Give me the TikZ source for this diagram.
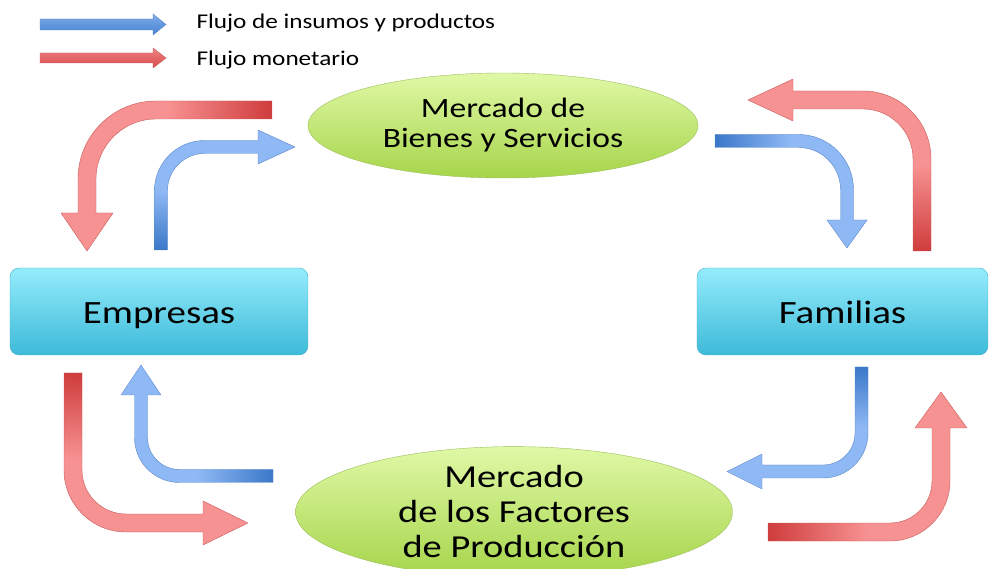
\documentclass[tikz,border=0pt]{standalone}
\usepackage{fontspec}
\setmainfont{Carlito}[FakeStretch=1.2]
\usetikzlibrary{shapes.geometric}

\definecolor{reddark}{HTML}{CF3C3C}
\definecolor{redlight}{HTML}{F79292}
\definecolor{redline}{HTML}{C85A5A}
\definecolor{bluedark}{HTML}{3A78C8}
\definecolor{bluelight}{HTML}{8FB9F5}
\definecolor{blueline}{HTML}{5A86C8}
\definecolor{boxtop}{HTML}{94ECFB}
\definecolor{boxbottom}{HTML}{3DBAD9}
\definecolor{boxline}{HTML}{4AAFC9}
\definecolor{markettop}{HTML}{E0F8A6}
\definecolor{marketbottom}{HTML}{A6D54A}
\definecolor{marketline}{HTML}{9DBE5C}

\begin{document}
\begin{tikzpicture}[x=1pt,y=-1pt,
    sector/.style={draw=boxline, rounded corners=9pt, top color=boxtop,
      bottom color=boxbottom, minimum height=87pt, text height=24pt, text depth=0pt,
      font=\fontsize{32.5}{36}\selectfont},
    market/.style={ellipse, draw=marketline, top color=markettop,
      bottom color=marketbottom, inner sep=0pt, align=center},
    redflow/.style={draw=redline, line width=0.4pt},
    blueflow/.style={draw=blueline, line width=0.4pt},
    legend/.style={anchor=base west, font=\fontsize{21}{24}\selectfont}]

        \useasboundingbox (0,0) rectangle (989,569);

        % Legend
        \draw[blueflow, top color=bluelight!80!bluedark, bottom color=bluedark!85!bluelight]
            (40,19) -- (153,19) -- (153,14) -- (166,24.5) -- (153,35) -- (153,30) -- (40,30) -- cycle;
        \draw[redflow, top color=redlight!80!reddark, bottom color=reddark!80!redlight]
            (40,53) -- (153,53) -- (153,48) -- (166,58) -- (153,68) -- (153,63) -- (40,63) -- cycle;
        \node (insumos) [legend] at (193,29) {Flujo de insumos y productos};
        \node (monetario) [legend] at (193,66) {Flujo monetario};

        % The two sectors
        \node (empresas) [sector, minimum width=298pt] at (159,311.5) {Empresas};
        \node (familias) [sector, minimum width=291pt] at (842.5,311.5) {Familias};

        % The two markets
        \node (bienes) [market, minimum width=390pt, minimum height=105pt,
            font=\fontsize{28}{30}\selectfont] at (503,125.5)
            {Mercado de\\Bienes y Servicios};
        \node (factores) [market, minimum width=437pt, minimum height=128pt,
            font=\fontsize{32}{35}\selectfont] at (514,512)
            {Mercado\\de los Factores\\de Producción};

        % Top left: money goes down to the firms, goods go up to the market
        \draw[redflow, left color=redlight, right color=reddark, middle color=redlight]
            (272,101) -- (156,101) .. controls (112.9,101) and (78,135.9) .. (78,179)
            -- (78,213) -- (61,213) -- (87,251) -- (113,213) -- (96,213)
            -- (96,179) .. controls (96,145.9) and (122.9,119) .. (156,119) -- (272,119) -- cycle;
        \draw[blueflow, bottom color=bluedark, top color=bluelight, middle color=bluelight]
            (154.5,250) -- (154.5,190.5) .. controls (154.5,162.9) and (176.9,140.5) .. (204.5,140.5)
            -- (258,140.5) -- (258,130) -- (295,147) -- (258,164) -- (258,153.5)
            -- (204.5,153.5) .. controls (184.1,153.5) and (167.5,170.1) .. (167.5,190.5) -- (167.5,250) -- cycle;

        % Top right: goods go down to the households, money goes up to the market
        \draw[blueflow, left color=bluedark, right color=bluelight, middle color=bluelight]
            (715,134.5) -- (798.5,134.5) .. controls (828.9,134.5) and (853.5,159.1) .. (853.5,189.5)
            -- (853.5,220) -- (867,220) -- (847,248) -- (827,220) -- (840.5,220)
            -- (840.5,189.5) .. controls (840.5,166.3) and (821.7,147.5) .. (798.5,147.5) -- (715,147.5) -- cycle;
        \draw[redflow, bottom color=reddark, top color=redlight, middle color=redlight]
            (913,251) -- (913,159) .. controls (913,131.4) and (890.6,109) .. (863,109)
            -- (793,109) -- (793,121) -- (748,100) -- (793,79) -- (793,91)
            -- (863,91) .. controls (900.6,91) and (931,121.4) .. (931,159) -- (931,251) -- cycle;

        % Bottom left
        \draw[redflow, top color=reddark, bottom color=redlight, middle color=redlight]
            (82,373) -- (64,373) -- (64,470) .. controls (64,504.2) and (91.8,532) .. (126,532)
            -- (203,532) -- (203,545) -- (248,523) -- (203,501) -- (203,514)
            -- (126,514) .. controls (101.7,514) and (82,494.3) .. (82,470) -- cycle;
        \draw[blueflow, right color=bluedark, left color=bluelight, middle color=bluelight]
            (273,482.5) -- (179.5,482.5) .. controls (154.6,482.5) and (134.5,462.4) .. (134.5,437.5)
            -- (134.5,395) -- (121,395) -- (141,365) -- (161,395) -- (147.5,395)
            -- (147.5,437.5) .. controls (147.5,455.2) and (161.8,469.5) .. (179.5,469.5) -- (273,469.5) -- cycle;

        % Bottom right
        \draw[blueflow, top color=bluedark, bottom color=bluelight, middle color=bluelight]
            (855,367) -- (868,367) -- (868,433) .. controls (868,457.9) and (847.9,478) .. (823,478)
            -- (762,478) -- (762,489) -- (727,471.5) -- (762,454) -- (762,465)
            -- (823,465) .. controls (840.7,465) and (855,450.7) .. (855,433) -- cycle;
        \draw[redflow, left color=reddark, right color=redlight, middle color=redlight]
            (768,523) -- (768,541) -- (890,541) .. controls (923.1,541) and (950,514.1) .. (950,481)
            -- (950,428) -- (967,428) -- (941,392) -- (915,428) -- (932,428)
            -- (932,481) .. controls (932,504.2) and (913.2,523) .. (890,523) -- cycle;
\end{tikzpicture}
\end{document}
